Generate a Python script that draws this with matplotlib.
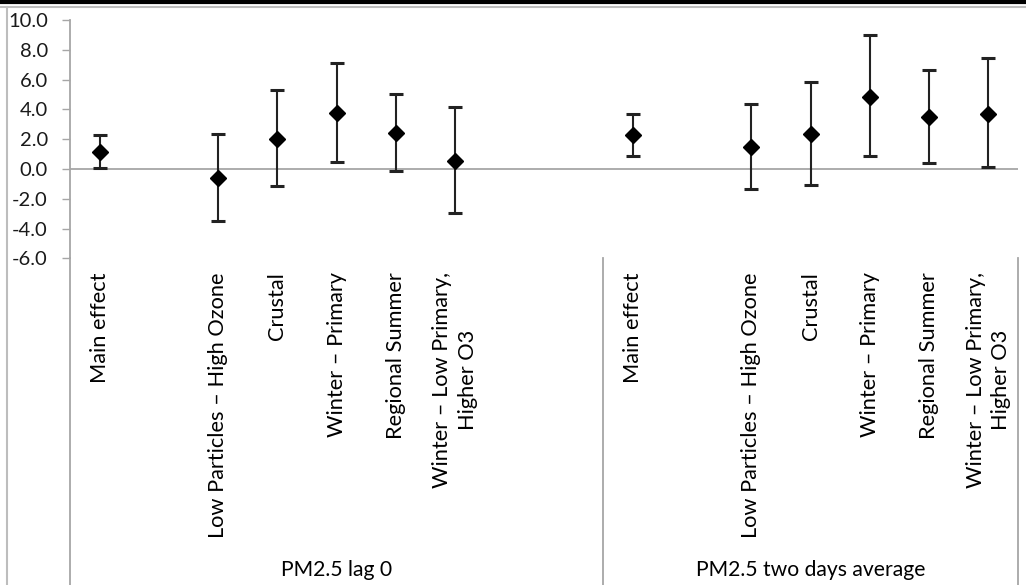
import matplotlib.pyplot as plt
import matplotlib.transforms as mtransforms
from matplotlib.lines import Line2D

plt.rcParams['font.family'] = ['Lato', 'DejaVu Sans']
plt.rcParams['axes.unicode_minus'] = False

# Data: estimates with 95% CI, two exposure groups
groups = ['PM2.5 lag 0', 'PM2.5 two days average']
categories = ['Main effect', '', 'Low Particles \u2013 High Ozone', 'Crustal',
              'Winter \u2013 Primary', 'Regional Summer',
              'Winter \u2013 Low Primary,\nHigher O3', '', '',
              'Main effect', '', 'Low Particles \u2013 High Ozone', 'Crustal',
              'Winter \u2013 Primary', 'Regional Summer',
              'Winter \u2013 Low Primary,\nHigher O3']
group_sizes = [9, 7]
est_pos = [0, 2, 3, 4, 5, 6, 9, 11, 12, 13, 14, 15]
est = [1.15, -0.60, 2.03, 3.75, 2.41, 0.56,
       2.30, 1.49, 2.34, 4.86, 3.48, 3.70]
lower = [0.05, -3.48, -1.16, 0.49, -0.16, -2.93,
         0.87, -1.32, -1.07, 0.87, 0.40, 0.13]
upper = [2.28, 2.34, 5.29, 7.14, 5.02, 4.17,
         3.72, 4.37, 5.87, 9.02, 6.67, 7.43]

grey = '#a6a6a6'

fig = plt.figure(figsize=(10.26, 5.85), dpi=100)
ax = fig.add_axes([70/1026, 1 - 258.3/585, 948/1026, 238.3/585])

yerr = [[e - l for e, l in zip(est, lower)], [u - e for e, u in zip(est, upper)]]
ax.errorbar(est_pos, est, yerr=yerr, fmt='D', color='black', ms=8,
            ecolor='#222222', elinewidth=1.5, capsize=5, capthick=2.2,
            zorder=3)
ax.axhline(0, color=grey, lw=1.3, zorder=1)

ax.set_xlim(-0.5, len(categories) - 0.5)
ax.set_ylim(-6, 10)
ax.set_yticks(range(-6, 11, 2))
ax.yaxis.set_major_formatter(plt.FormatStrFormatter('%.1f'))
ax.tick_params(axis='y', direction='out', length=6, width=1, color=grey,
               pad=10, labelsize=14.5, labelcolor='#1a1a1a')
ax.set_xticks(range(len(categories)))
ax.set_xticklabels(categories, rotation=90, fontsize=15.7, va='top',
                   ha='center', multialignment='center', linespacing=1.35)
ax.tick_params(axis='x', length=0, pad=10)
for s in ['top', 'right', 'bottom']:
    ax.spines[s].set_visible(False)
ax.spines['left'].set_color(grey)
ax.spines['left'].set_linewidth(1.3)

# group separators and labels below the category labels
trans = mtransforms.blended_transform_factory(ax.transData, fig.transFigure)
y_ax_bottom = 1 - 258.3/585
ax.add_line(Line2D([-0.5, -0.5], [0, y_ax_bottom], transform=trans,
                   color=grey, lw=1.3, clip_on=False))
start = -0.5
for g, n in zip(groups, group_sizes):
    end = start + n
    ax.add_line(Line2D([end, end], [0, y_ax_bottom], transform=trans,
                       color=grey, lw=1.3, clip_on=False))
    ax.text((start + end) / 2, 15/585, g, transform=trans, ha='center',
            va='center', fontsize=15.2)
    start = end

# page frame lines
fig.add_artist(Line2D([0, 1], [1 - 2/585, 1 - 2/585], color='black', lw=3))
fig.add_artist(Line2D([0, 1], [1 - 6.5/585, 1 - 6.5/585], color='#bdbdbd',
                      lw=1.5))
fig.add_artist(Line2D([7/1026, 7/1026], [0, 1 - 6.5/585], color='#bdbdbd',
                      lw=1.5))

fig.savefig('out.png', dpi=100)
